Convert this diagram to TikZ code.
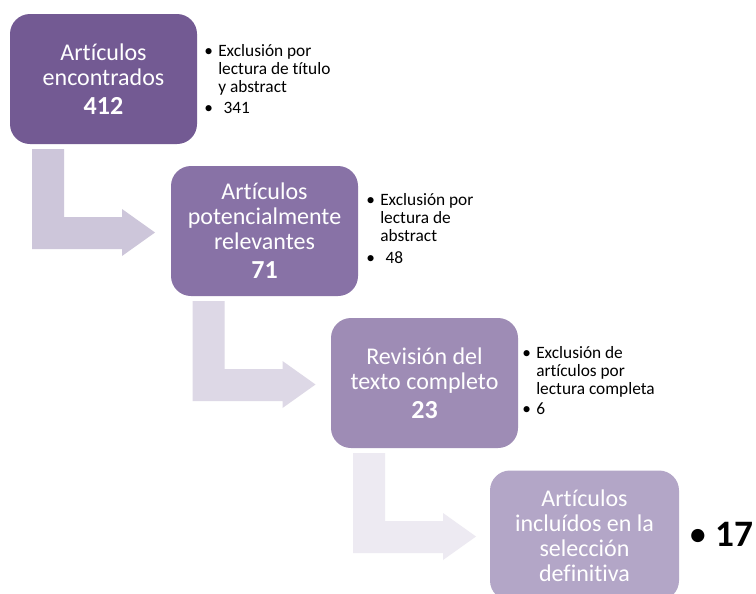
\documentclass[tikz,border=0pt]{standalone}
\usepackage{fontspec}
\setmainfont{Carlito}[Ligatures={NoCommon}]
\definecolor{boxa}{HTML}{735A93}
\definecolor{boxb}{HTML}{8872A6}
\definecolor{boxc}{HTML}{9E8CB5}
\definecolor{boxd}{HTML}{B3A6C7}
\definecolor{arra}{HTML}{CDC6DA}
\definecolor{arrb}{HTML}{DDD8E6}
\definecolor{arrc}{HTML}{EDEAF2}
\begin{document}
\begin{tikzpicture}[x=0.75pt,y=-0.75pt,
  stepbox/.style={rounded corners=15pt, minimum width=140.25pt, minimum height=97.5pt,
    inner sep=0pt, text=white, align=center, font=\fontsize{18}{18.75}\selectfont},
  note/.style={anchor=base west, inner sep=0pt, font=\fontsize{13}{13.5}\selectfont}]
\useasboundingbox (0,0) rectangle (756,593);
\fill[white] (0,0) rectangle (756,593);
\clip (0,0) rectangle (756,593);
% bent arrows
\foreach \i/\c in {0/arra,1/arrb,2/arrc}
  \fill[\c, shift={({160.5*\i},{152*\i})}]
    (32,149) -- (64,149) -- (64,217) -- (122,217) -- (122,209) -- (155,232.5)
    -- (122,256) -- (122,249) -- (32,249) -- cycle;
% boxes
\node[stepbox, fill=boxa] (b1) at (103.5,79)
  {Artículos\\encontrados\\[3pt]{\bfseries\fontsize{19.5}{20}\selectfont 412}};
\node[stepbox, fill=boxb] (b2) at (264.5,231)
  {Artículos\\potencialmente\\relevantes\\[3pt]{\bfseries\fontsize{19.5}{20}\selectfont 71}};
\node[stepbox, fill=boxc] (b3) at (424.5,383)
  {Revisión del\\texto completo\\[3pt]{\bfseries\fontsize{19.5}{20}\selectfont 23}};
\node[stepbox, fill=boxd, minimum width=141.75pt] (b4) at (584.5,535.5)
  {Artículos\\incluídos en la\\selección\\definitiva};
% notes
\node[note] (n1) at (218,56) {\begin{tabular}[t]{@{}l@{}}\llap{\textbullet\hspace{4pt}}Exclusión por\\
  lectura de título\\ y abstract\\[2.25pt] \llap{\textbullet\hspace{4pt}}\hspace{4pt}341\end{tabular}};
\node[note] (n2) at (380,205) {\begin{tabular}[t]{@{}l@{}}\llap{\textbullet\hspace{4pt}}Exclusión por\\
  lectura de\\ abstract\\[3pt] \llap{\textbullet\hspace{4pt}}\hspace{4pt}48\end{tabular}};
\node[note] (n3) at (536,358) {\begin{tabular}[t]{@{}l@{}}\llap{\textbullet\hspace{4pt}}Exclusión de\\
  artículos por\\ lectura completa\\[2pt] \llap{\textbullet\hspace{4pt}}6\end{tabular}};
\node[anchor=base west, inner sep=0pt, font=\bfseries\fontsize{28}{30}\selectfont] (fin) at (715,546)
  {\llap{{\mdseries\textbullet}\hspace{6pt}}17};
\end{tikzpicture}
\end{document}
